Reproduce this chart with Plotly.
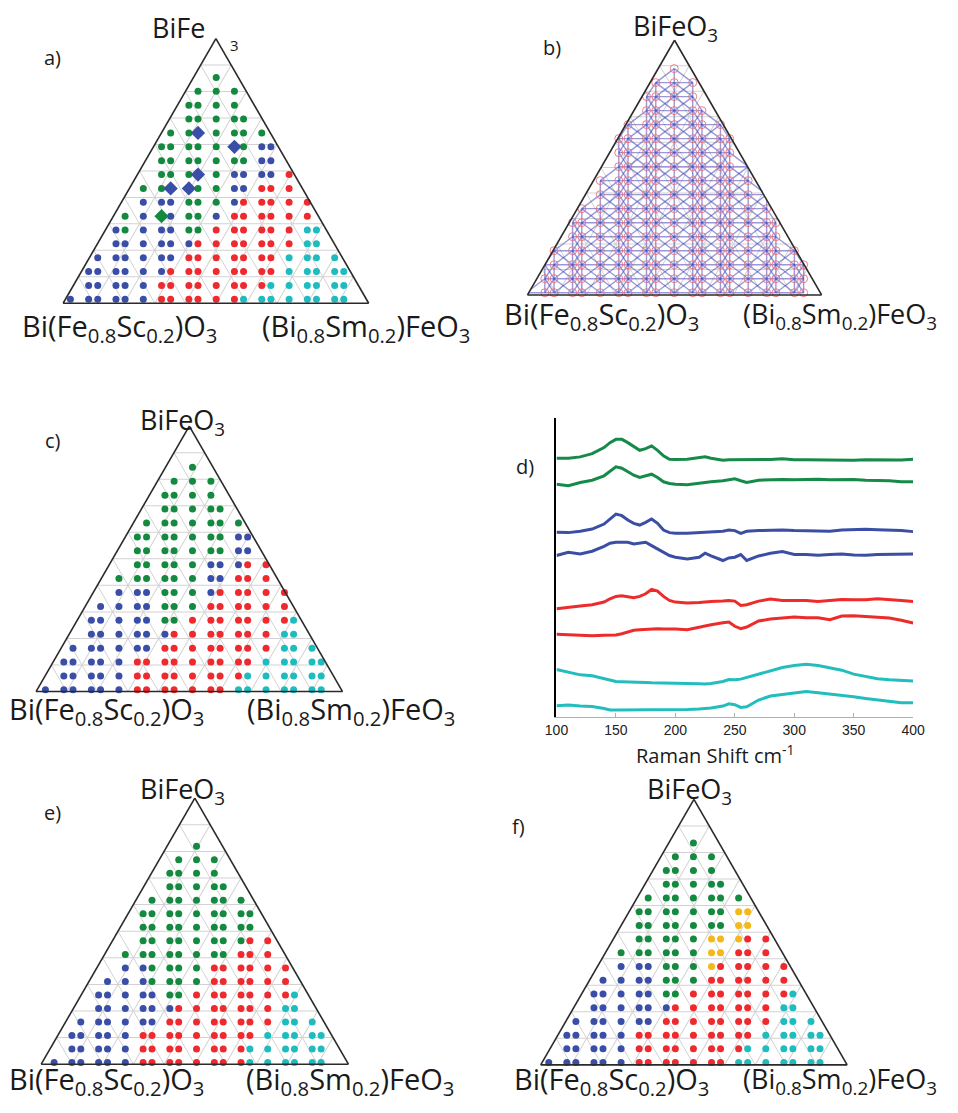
import plotly.graph_objects as go

# Figure size and the measured mapping from figure pixels to the photographed window:
# x_window = WIN_X0 + WIN_SX * x_fig ;  y_window = WIN_Y0 + y_fig
FIG_W, FIG_H = 942, 1097
WIN_X0, WIN_SX, WIN_Y0 = 22.0, 0.970, 8.0
TRI_K = 3 ** 0.5 / 2

# ---------------- composition-spread sample grid ----------------
COL_OFFSETS = [-16, -14, -13, -11, -10, -8, -6, -5, -3, -2, 0, 2, 3, 5, 6, 8, 10, 11, 13, 14]
N_ROWS = 17  # rows listed from top (row 16) to bottom (row 0)

SAMPLES_B = [
    "..........o.........",
    ".........ooo........",
    "........oooo........",
    "........ooooo.......",
    ".......ooooooo......",
    "......ooooooooo.....",
    "......ooooooooo.....",
    "......oooooooooo....",
    ".....ooooooooooo....",
    ".....oooooooooooo...",
    "....ooooooooooooo...",
    "...ooooooooooooooo..",
    "...ooooooooooooooo..",
    "..ooooooooooooooooo.",
    ".ooooooooooooooooooo",
    ".ooooooooooooooooooo",
    "oooooooooooooooooooo",
]

# g green, b blue, r red, c cyan, y yellow, B blue diamond, G green diamond
PHASE_A = [
    "..........g.........",
    ".........ggg........",
    "........gggg........",
    "........ggggg.......",
    ".......ggBgggg......",
    "......gggggBgbb.....",
    "......gggggggbb.....",
    "......gggBgbbbbr....",
    ".....ggBBggbbrrr....",
    ".....bbbgggbrrrrr...",
    "....gbGbggbrrrrrr...",
    "...bgbbbggrrrrrrcc..",
    "...bbbbbbrrrrrrrcc..",
    "..bbbbbbrrrrrrrcccc.",
    ".bbbbbbrrrrrrrrccccc",
    ".bbbbbrrrrrrrrcccccc",
    "bbbbbbrrrrrrcccccccc",
]
PHASE_C = [
    "..........g.........",
    ".........ggg........",
    "........gggg........",
    "........ggggg.......",
    ".......ggggggg......",
    "......gggggggbb.....",
    "......gggggggbb.....",
    "......gggggbbbrr....",
    ".....ggggggbbrrr....",
    ".....bbbgggbrrrrr...",
    "....bbbbgggrrrrrr...",
    "...bbbbbggrrrrrrrc..",
    "...bbbbbbrrrrrrrcc..",
    "..bbbbbbrrrrrrrrccc.",
    ".bbbbbrrrrrrrrrccccc",
    ".bbbbbrrrrrrrrcccccc",
    "bbbbbbrrrrrrrccccccc",
]
PHASE_E = [
    "..........g.........",
    ".........ggg........",
    "........gggg........",
    "........ggggg.......",
    ".......ggggggg......",
    "......ggggggggg.....",
    "......ggggggggg.....",
    "......ggggggggrr....",
    ".....ggggggggrrr....",
    ".....bbggggrrrrrr...",
    "....bbbggggrrrrrr...",
    "...bbbbbggrrrrrrrc..",
    "...bbbbbbrrrrrrrcc..",
    "..bbbbbbrrrrrrrrccc.",
    ".bbbbbrrrrrrrrrccccc",
    ".bbbbbrrrrrrrrcccccc",
    "bbbbbbrrrrrrrrcccccc",
]
PHASE_F = [
    "..........g.........",
    ".........ggg........",
    "........gggg........",
    "........ggggg.......",
    ".......ggggggg......",
    "......gggggggyy.....",
    "......gggggggyy.....",
    "......gggggyyyrr....",
    ".....ggggggyyrrr....",
    ".....bbbgggyrrrrr...",
    "....bbbbgggrrrrrr...",
    "...bbbbbggrrrrrrrc..",
    "...bbbbbbrrrrrrrcc..",
    "..bbbbbbrrrrrrrrccc.",
    ".bbbbbrrrrrrrrrccccc",
    ".bbbbbrrrrrrrrcccccc",
    "bbbbbbrrrrrrrccccccc",
]

# ---------------- Raman spectra (panel d) ----------------
RAMAN_SHIFT = [100, 110, 120, 130, 140, 145, 150, 155, 160, 165, 170, 175, 180, 185, 190, 195,
               200, 210, 220, 225, 230, 240, 245, 250, 255, 260, 270, 280, 290, 300, 310, 320,
               330, 340, 350, 360, 370, 380, 390, 400]
SPEC_G1 = [259.3, 259.3, 260.7, 264.0, 270.0, 275.0, 278.3, 278.3, 275.0, 270.7, 267.3, 269.0, 271.7, 267.3, 261.7, 258.3,
           258.0, 258.3, 260.0, 260.7, 259.3, 257.3, 257.7, 257.7, 257.3, 257.3, 257.3, 258.0, 258.7, 257.7, 257.7, 257.5,
           257.7, 257.5, 257.3, 257.7, 257.5, 257.7, 257.5, 258.3]
SPEC_G2 = [233.3, 231.7, 235.0, 237.3, 241.7, 246.0, 250.7, 249.3, 246.0, 242.3, 240.0, 241.7, 243.3, 240.0, 235.7, 234.0,
           233.3, 232.7, 234.3, 235.0, 235.7, 236.7, 238.0, 238.7, 236.7, 235.0, 237.3, 238.0, 238.0, 237.7, 238.0, 238.3,
           237.7, 238.0, 238.0, 237.3, 237.3, 236.7, 235.7, 235.7]
SPEC_B1 = [185.0, 184.7, 186.0, 188.3, 193.3, 198.3, 203.3, 201.7, 197.3, 194.0, 192.3, 195.0, 198.3, 194.0, 187.3, 184.7,
           184.0, 184.0, 184.7, 185.0, 185.3, 186.0, 187.3, 186.7, 184.0, 186.0, 186.7, 187.3, 187.3, 186.7, 186.7, 186.3,
           186.0, 187.3, 187.7, 188.0, 187.7, 187.3, 186.7, 185.7]
SPEC_B2 = [161.7, 165.0, 163.3, 166.0, 171.0, 174.0, 175.0, 175.3, 175.0, 173.3, 174.0, 175.0, 171.7, 168.3, 165.0, 161.7,
           160.0, 158.3, 160.0, 164.0, 161.3, 156.7, 159.3, 160.0, 162.7, 156.7, 161.3, 164.0, 165.7, 162.7, 162.7, 162.0,
           162.7, 163.3, 162.3, 162.0, 162.7, 162.7, 163.0, 163.3]
SPEC_R1 = [108.3, 110.0, 111.0, 112.3, 115.0, 118.3, 120.7, 121.3, 120.0, 119.3, 120.7, 123.3, 127.7, 126.0, 120.7, 116.7,
           115.0, 114.0, 114.7, 115.3, 115.7, 116.0, 116.7, 116.0, 111.7, 112.3, 116.0, 118.0, 116.7, 116.7, 116.7, 115.7,
           116.7, 117.7, 117.3, 117.3, 118.3, 117.7, 116.7, 115.7]
SPEC_R2 = [82.7, 82.0, 81.7, 81.3, 81.7, 81.7, 82.0, 83.3, 85.0, 86.7, 87.3, 87.7, 88.3, 88.3, 88.0, 88.3,
           88.0, 87.3, 90.0, 91.0, 92.3, 94.3, 95.0, 90.7, 88.3, 90.0, 96.0, 98.0, 98.7, 100.0, 99.3, 99.3,
           97.3, 101.0, 101.3, 100.7, 100.0, 99.0, 96.7, 94.0]
SPEC_C1 = [47.3, 44.3, 42.0, 41.0, 38.3, 36.7, 35.3, 35.0, 35.0, 34.7, 34.3, 34.3, 34.0, 34.0, 33.7, 33.3,
           33.3, 33.3, 33.0, 32.7, 33.3, 35.3, 37.3, 37.0, 37.7, 39.3, 42.7, 46.0, 49.3, 51.3, 52.7, 51.3,
           48.7, 46.7, 42.7, 40.0, 38.0, 37.0, 36.3, 35.7]
SPEC_C2 = [11.0, 11.7, 10.7, 10.3, 8.3, 6.7, 6.7, 6.7, 6.7, 6.7, 6.7, 6.7, 6.7, 6.7, 6.7, 6.7,
           7.0, 7.3, 7.7, 8.0, 8.7, 10.7, 13.0, 12.0, 9.3, 10.0, 16.7, 20.7, 22.0, 23.3, 25.3, 24.0,
           22.7, 22.0, 20.0, 18.3, 16.7, 15.0, 14.0, 14.0]

# ---------------- styles ----------------
COLORS = {"g": "#138a3f", "G": "#138a3f", "b": "#3a4ea8", "B": "#3a4ea8",
          "r": "#ee2a2e", "c": "#1fbcbf", "y": "#f6b817"}
SPEC_COLORS = ["#168a48", "#168a48", "#3b4ea5", "#3b4ea5", "#ee2b2b", "#ee2b2b", "#22bdbd", "#22bdbd"]
FONT = "Open Sans"


def fx(X):
    """window x pixel -> figure x pixel"""
    return (X - WIN_X0) / WIN_SX


def px_x(X):
    return fx(X) / FIG_W


def px_y(Y):
    return 1 - (Y - WIN_Y0) / FIG_H


# triangle geometry in window pixels: left/right corner x, base y, height,
# sample-grid centre column x, column step, bottom sample row y, row step
GEOM = {
    "ternary":  dict(XL=62, XR=372, YB=306.7, H=265.0, XC=217.3, CS=9.07, Y0=302.7, RS=14.23, phases=PHASE_A),
    "ternary2": dict(XL=525, XR=822, YB=298.3, H=256.6, XC=673.2, CS=9.20, Y0=296.0, RS=14.375, phases=None),
    "ternary3": dict(XL=35, XR=346, YB=695.0, H=265.7, XC=193.7, CS=9.15, Y0=693.3, RS=14.27, phases=PHASE_C),
    "ternary4": dict(XL=40, XR=352, YB=1067.7, H=266.0, XC=197.7, CS=8.86, Y0=1066.0, RS=13.875, phases=PHASE_E),
    "ternary5": dict(XL=537.3, XR=848.3, YB=1068.3, H=265.6, XC=692.3, CS=9.00, Y0=1066.0, RS=14.08, phases=PHASE_F),
}


def abc(d, r, grid):
    x0, dx, a0, da = grid
    a = a0 + r * da
    x = x0 + d * dx
    c = x - a / 2
    b = 1 - a - c
    return a, b, c


fig = go.Figure()

axis_style = dict(showticklabels=False, ticks="", showgrid=True, gridcolor="#d2d2d2", gridwidth=1,
                  linecolor="#2a2a2a", linewidth=1.6, tickmode="linear", tick0=0, dtick=0.1,
                  title=dict(text=""), min=0)

layout_ternaries = {}
for name, g in GEOM.items():
    W = g["XR"] - g["XL"]
    Wf = (WIN_SX * W + TRI_K * g["H"]) / (WIN_SX ** 2 + TRI_K ** 2)   # figure-pixel side length
    Wp, Hp = WIN_SX * Wf, TRI_K * Wf                                  # window size of triangle
    xcen = (g["XL"] + g["XR"]) / 2
    XLp = xcen - Wp / 2
    grid = ((g["XC"] - XLp) / Wp, g["CS"] / Wp, (g["YB"] - g["Y0"]) / Hp, g["RS"] / Hp)

    xf_c = fx(xcen)
    yf_b = g["YB"] - WIN_Y0
    layout_ternaries[name] = dict(
        domain=dict(x=[(xf_c - Wf / 2) / FIG_W, (xf_c + Wf / 2) / FIG_W],
                    y=[1 - yf_b / FIG_H, 1 - (yf_b - TRI_K * Wf) / FIG_H]),
        sum=1, bgcolor="rgba(0,0,0,0)",
        aaxis=axis_style, baxis=axis_style, caxis=axis_style)

    if g["phases"] is not None:
        for code, sym, size in [("g", "circle", 7), ("b", "circle", 7), ("r", "circle", 7),
                                ("c", "circle", 7), ("y", "circle", 7),
                                ("B", "diamond", 11), ("G", "diamond", 11)]:
            A, B, C = [], [], []
            for i, row in enumerate(g["phases"]):
                r = N_ROWS - 1 - i
                for j, ch in enumerate(row):
                    if ch == code:
                        a, b, c = abc(COL_OFFSETS[j], r, grid)
                        A.append(a); B.append(b); C.append(c)
            if A:
                fig.add_trace(go.Scatterternary(
                    a=A, b=B, c=C, mode="markers", subplot=name, cliponaxis=False,
                    marker=dict(symbol=sym, size=size, color=COLORS[code], line=dict(width=0)),
                    showlegend=False, hoverinfo="skip"))
    else:
        present = {}
        for i, row in enumerate(SAMPLES_B):
            r = N_ROWS - 1 - i
            present[r] = [j for j, ch in enumerate(row) if ch == "o"]
        A, B, C = [], [], []

        def seg(p1, p2):
            for (j, r) in (p1, p2):
                a, b, c = abc(COL_OFFSETS[j], r, grid)
                A.append(a); B.append(b); C.append(c)
            A.append(None); B.append(None); C.append(None)

        for r, cols in present.items():
            for k in range(len(cols) - 1):
                seg((cols[k], r), (cols[k + 1], r))
            if r + 1 in present:
                up = set(present[r + 1])
                for j in cols:
                    if j in up:
                        seg((j, r), (j, r + 1))
                    for dj in (-1, 1):
                        if j + dj in up:
                            seg((j, r), (j + dj, r + 1))
        fig.add_trace(go.Scatterternary(
            a=A, b=B, c=C, mode="lines", subplot=name, cliponaxis=False,
            line=dict(color="rgba(70,70,185,0.55)", width=1.4),
            showlegend=False, hoverinfo="skip"))
        A, B, C = [], [], []
        for r, cols in present.items():
            for j in cols:
                a, b, c = abc(COL_OFFSETS[j], r, grid)
                A.append(a); B.append(b); C.append(c)
        fig.add_trace(go.Scatterternary(
            a=A, b=B, c=C, mode="markers", subplot=name, cliponaxis=False,
            marker=dict(symbol="circle-open", size=8, color="rgba(240,110,120,0.9)", line=dict(width=1)),
            showlegend=False, hoverinfo="skip"))

for ys, col in zip([SPEC_G1, SPEC_G2, SPEC_B1, SPEC_B2, SPEC_R1, SPEC_R2, SPEC_C1, SPEC_C2], SPEC_COLORS):
    fig.add_trace(go.Scatter(x=RAMAN_SHIFT, y=ys, mode="lines", line=dict(color=col, width=3),
                             showlegend=False, hoverinfo="skip", cliponaxis=False))

fig.update_layout(
    width=FIG_W, height=FIG_H, margin=dict(l=0, r=0, t=0, b=0),
    paper_bgcolor="white", plot_bgcolor="white",
    xaxis=dict(domain=[px_x(556), px_x(911)], range=[100, 400], tickvals=[100, 150, 200, 250, 300, 350, 400],
               showline=True, linecolor="#b0b0b0", linewidth=1, ticks="inside", ticklen=4, tickcolor="#b0b0b0",
               showgrid=False, zeroline=False, tickfont=dict(family="Liberation Sans", size=14, color="#222")),
    yaxis=dict(domain=[px_y(716.7), px_y(417.7)], range=[0, 300], showline=True, linecolor="black", linewidth=1.5,
               ticks="", showticklabels=False, showgrid=False, zeroline=False),
    **layout_ternaries,
)

ann = []


def text(x, y, s, size):
    ann.append(dict(x=px_x(x), y=px_y(y), xref="paper", yref="paper", text=s, showarrow=False,
                    font=dict(family=FONT, size=size, color="#1a1a1a"), xanchor="center", yanchor="middle"))


LEFT_LBL = "Bi(Fe<sub>0.8</sub>Sc<sub>0.2</sub>)O<sub>3</sub>"
RIGHT_LBL = "(Bi<sub>0.8</sub>Sm<sub>0.2</sub>)FeO<sub>3</sub>"
TOP_LBL = "BiFeO<sub>3</sub>"
LBL, TOP = 29, 27
LBL_EDGE = 27   # right-column right labels, kept inside the figure edge

# panel a
text(54, 58, "a)", 20)
text(180, 28, "BiFe", TOP)
text(236, 45, "3", 15)
text(121, 327, LEFT_LBL, LBL)
text(366, 327, RIGHT_LBL, LBL)
# panel b
text(552, 48, "b)", 20)
text(674, 28, TOP_LBL, TOP)
text(601, 315, LEFT_LBL, LBL)
text(838, 315, RIGHT_LBL, LBL_EDGE)
# panel c
text(55, 440, "c)", 20)
text(184, 421, TOP_LBL, TOP)
text(108, 710, LEFT_LBL, LBL)
text(351, 710, RIGHT_LBL, LBL)
# panel d
text(525, 466, "d)", 20)
text(714, 754, "Raman Shift cm<sup>-1</sup>", 20)
# panel e
text(54, 812, "e)", 20)
text(184, 790, TOP_LBL, TOP)
text(108, 1080, LEFT_LBL, LBL)
text(350, 1080, RIGHT_LBL, LBL)
# panel f
text(518, 826, "f)", 20)
text(688, 790, TOP_LBL, TOP)
text(611, 1080, LEFT_LBL, LBL)
text(838, 1080, RIGHT_LBL, LBL_EDGE)

fig.update_layout(annotations=ann)
fig.write_html("out.html")
